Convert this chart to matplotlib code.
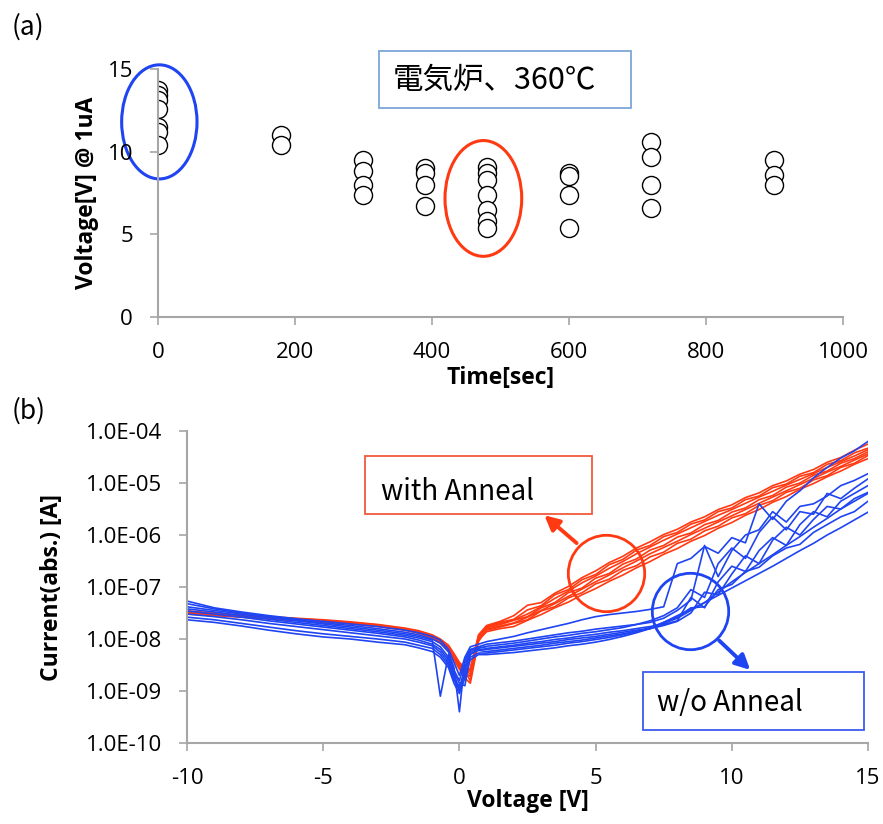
import matplotlib
matplotlib.use("Agg")
import matplotlib.pyplot as plt
from matplotlib.patches import Ellipse, Rectangle
from matplotlib.ticker import NullLocator
import numpy as np

plt.rcParams["font.family"] = ["Open Sans", "Noto Sans CJK JP", "DejaVu Sans"]
plt.rcParams["axes.unicode_minus"] = False

# ---- panel (a): voltage at 1uA vs anneal time ----
time_s = [0, 0, 0, 0, 0, 0, 0,
          180, 180,
          300, 300, 300, 300,
          390, 390, 390, 390,
          480, 480, 480, 480, 480, 480, 480,
          600, 600, 600, 600,
          720, 720, 720, 720,
          900, 900, 900]
volt_1ua = [13.7, 13.4, 13.1, 12.6, 11.5, 11.2, 10.4,
            11.0, 10.4,
            9.5, 8.8, 8.0, 7.4,
            9.0, 8.7, 8.0, 6.7,
            9.1, 8.7, 8.3, 7.4, 6.5, 5.8, 5.4,
            8.7, 8.5, 7.4, 5.4,
            10.6, 9.7, 8.0, 6.6,
            9.5, 8.6, 8.0]
time_ticks = [0, 200, 400, 600, 800, 1000]
volt_ticks = [0, 5, 10, 15]

# ---- panel (b): I-V curves, log10 of |current| ----
bias_v = [-10, -9, -8, -7, -6, -5, -4, -3, -2, -1.5, -1, -0.7, -0.4, -0.2, 0, 0.2, 0.4, 0.7,
          1, 1.5, 2, 2.5, 3, 3.5, 4, 4.5, 5, 5.5, 6, 6.5, 7, 7.5, 8, 8.5, 9, 9.5,
          10, 10.5, 11, 11.5, 12, 12.5, 13, 13.5, 14, 14.5, 15]

log_i_anneal = [
    [-7.46, -7.50, -7.54, -7.57, -7.60, -7.63, -7.67, -7.72, -7.79, -7.84, -7.92, -8.00, -8.12, -8.28, -8.45, -8.55, -8.62, -7.92,
     -7.74, -7.66, -7.55, -7.35, -7.30, -7.12, -6.99, -6.82, -6.69, -6.53, -6.41, -6.25, -6.13, -5.99, -5.89, -5.75, -5.65, -5.51,
     -5.42, -5.28, -5.19, -5.05, -4.96, -4.83, -4.74, -4.60, -4.51, -4.37, -4.25],
    [-7.48, -7.52, -7.55, -7.59, -7.62, -7.65, -7.69, -7.74, -7.81, -7.86, -7.95, -8.04, -8.18, -8.35, -8.50, -8.62, -8.80, -7.98,
     -7.75, -7.68, -7.62, -7.44, -7.36, -7.15, -7.05, -6.86, -6.76, -6.57, -6.47, -6.29, -6.20, -6.03, -5.95, -5.79, -5.71, -5.55,
     -5.48, -5.32, -5.25, -5.09, -5.02, -4.87, -4.80, -4.64, -4.57, -4.42, -4.33],
    [-7.50, -7.53, -7.57, -7.60, -7.63, -7.66, -7.70, -7.75, -7.82, -7.88, -7.97, -8.06, -8.20, -8.38, -8.55, -8.70, -8.55, -7.95,
     -7.77, -7.70, -7.63, -7.52, -7.38, -7.22, -7.08, -6.92, -6.79, -6.64, -6.51, -6.36, -6.23, -6.10, -5.98, -5.86, -5.74, -5.62,
     -5.51, -5.39, -5.27, -5.16, -5.04, -4.93, -4.82, -4.70, -4.59, -4.48, -4.36],
    [-7.47, -7.51, -7.55, -7.58, -7.61, -7.64, -7.68, -7.73, -7.80, -7.85, -7.93, -8.02, -8.15, -8.30, -8.48, -8.58, -8.68, -8.00,
     -7.79, -7.72, -7.64, -7.57, -7.40, -7.30, -7.11, -7.02, -6.83, -6.74, -6.56, -6.46, -6.29, -6.20, -6.04, -5.96, -5.80, -5.72,
     -5.56, -5.48, -5.32, -5.24, -5.08, -5.00, -4.85, -4.77, -4.62, -4.53, -4.40],
    [-7.52, -7.55, -7.58, -7.61, -7.64, -7.67, -7.71, -7.76, -7.83, -7.89, -7.98, -8.08, -8.22, -8.40, -8.58, -8.75, -8.85, -8.05,
     -7.81, -7.75, -7.69, -7.58, -7.45, -7.32, -7.18, -7.04, -6.90, -6.77, -6.63, -6.50, -6.36, -6.24, -6.12, -5.99, -5.87, -5.75,
     -5.63, -5.51, -5.39, -5.27, -5.15, -5.03, -4.91, -4.79, -4.68, -4.56, -4.44],
    [-7.49, -7.52, -7.56, -7.59, -7.62, -7.65, -7.69, -7.74, -7.81, -7.87, -7.96, -8.05, -8.17, -8.33, -8.52, -8.65, -8.72, -7.97,
     -7.83, -7.77, -7.70, -7.63, -7.46, -7.38, -7.21, -7.11, -6.94, -6.85, -6.68, -6.59, -6.42, -6.33, -6.16, -6.08, -5.92, -5.83,
     -5.67, -5.59, -5.43, -5.34, -5.18, -5.10, -4.94, -4.86, -4.70, -4.62, -4.47],
    [-7.51, -7.54, -7.57, -7.60, -7.63, -7.66, -7.70, -7.75, -7.82, -7.87, -7.96, -8.05, -8.19, -8.36, -8.53, -8.66, -8.60, -8.02,
     -7.86, -7.80, -7.76, -7.64, -7.53, -7.40, -7.29, -7.15, -7.03, -6.89, -6.77, -6.63, -6.51, -6.37, -6.26, -6.12, -6.01, -5.87,
     -5.76, -5.62, -5.51, -5.37, -5.26, -5.12, -5.01, -4.88, -4.77, -4.64, -4.53],
]

log_i_no_anneal = [
    [-7.27, -7.40, -7.48, -7.55, -7.61, -7.66, -7.71, -7.76, -7.83, -7.88, -7.95, -8.02, -8.20, -8.45, -8.70, -8.35, -8.15, -8.10,
     -8.05, -8.00, -7.95, -7.88, -7.82, -7.76, -7.70, -7.63, -7.57, -7.53, -7.50, -7.47, -7.43, -7.38, -6.55, -6.45, -6.22, -6.35,
     -6.05, -6.15, -5.40, -5.70, -5.35, -5.15, -4.90, -4.70, -4.52, -4.38, -4.20],
    [-7.32, -7.42, -7.50, -7.57, -7.63, -7.69, -7.74, -7.80, -7.87, -7.92, -8.00, -8.08, -8.25, -8.55, -9.40, -8.40, -8.20, -8.15,
     -8.10, -8.07, -8.04, -8.00, -7.96, -7.92, -7.88, -7.85, -7.81, -7.78, -7.75, -7.72, -7.68, -7.60, -7.45, -7.25, -6.20, -6.80,
     -6.30, -6.00, -5.90, -5.55, -5.75, -5.45, -5.40, -5.25, -5.05, -4.95, -4.82],
    [-7.38, -7.45, -7.52, -7.59, -7.65, -7.71, -7.77, -7.83, -7.90, -7.95, -8.02, -9.10, -8.30, -8.60, -8.80, -8.45, -8.25, -8.18,
     -8.14, -8.11, -8.08, -8.04, -8.00, -7.96, -7.93, -7.89, -7.86, -7.82, -7.78, -7.72, -7.65, -7.55, -7.40, -7.05, -7.20, -6.55,
     -6.25, -6.45, -5.95, -5.65, -5.90, -5.55, -5.60, -5.20, -5.30, -5.10, -4.92],
    [-7.42, -7.48, -7.55, -7.62, -7.68, -7.74, -7.80, -7.86, -7.93, -7.98, -8.05, -8.15, -8.35, -8.70, -8.95, -8.55, -8.22, -8.15,
     -8.18, -8.15, -8.12, -8.08, -8.05, -8.01, -7.98, -7.94, -7.91, -7.87, -7.84, -7.80, -7.76, -7.72, -7.65, -7.20, -7.40, -6.90,
     -6.60, -6.70, -6.30, -6.05, -6.20, -5.80, -5.55, -5.65, -5.35, -5.20, -5.05],
    [-7.46, -7.52, -7.58, -7.65, -7.71, -7.77, -7.83, -7.89, -7.96, -8.02, -8.10, -8.20, -8.40, -8.65, -8.85, -8.90, -8.30, -8.20,
     -8.20, -8.17, -8.14, -8.11, -8.08, -8.05, -8.01, -7.98, -7.95, -7.91, -7.87, -7.83, -7.80, -7.74, -7.66, -7.50, -7.10, -7.15,
     -6.75, -6.40, -6.55, -6.10, -5.85, -6.00, -5.70, -5.45, -5.50, -5.30, -5.18],
    [-7.52, -7.57, -7.63, -7.70, -7.76, -7.82, -7.88, -7.94, -8.00, -8.06, -8.13, -8.25, -8.45, -8.75, -9.00, -8.60, -8.28, -8.22,
     -8.24, -8.21, -8.18, -8.15, -8.12, -8.08, -8.05, -8.02, -7.98, -7.94, -7.90, -7.85, -7.80, -7.70, -7.60, -7.45, -7.30, -7.10,
     -6.90, -6.72, -6.55, -6.38, -6.20, -6.03, -5.85, -5.68, -5.50, -5.35, -5.20],
    [-7.58, -7.63, -7.70, -7.77, -7.84, -7.90, -7.95, -8.00, -8.06, -8.12, -8.18, -8.30, -8.50, -8.80, -8.90, -8.70, -8.35, -8.27,
     -8.27, -8.24, -8.21, -8.18, -8.15, -8.12, -8.08, -8.05, -8.01, -7.97, -7.92, -7.86, -7.78, -7.68, -7.58, -7.40, -7.38, -7.05,
     -6.95, -6.70, -6.62, -6.40, -6.25, -6.18, -5.95, -5.80, -5.65, -5.55, -5.35],
    [-7.63, -7.68, -7.75, -7.83, -7.90, -7.96, -8.00, -8.06, -8.11, -8.17, -8.24, -8.35, -8.55, -8.85, -9.05, -8.75, -8.40, -8.30,
     -8.30, -8.28, -8.26, -8.23, -8.20, -8.17, -8.13, -8.10, -8.06, -8.01, -7.95, -7.88, -7.80, -7.68, -7.55, -7.43, -7.30, -7.16,
     -7.02, -6.88, -6.74, -6.60, -6.45, -6.30, -6.16, -6.00, -5.86, -5.71, -5.56],
]

bias_ticks = [-10, -5, 0, 5, 10, 15]
current_ticks = [1e-10, 1e-9, 1e-8, 1e-7, 1e-6, 1e-5, 1e-4]
current_labels = ["1.0E-10", "1.0E-09", "1.0E-08", "1.0E-07", "1.0E-06", "1.0E-05", "1.0E-04"]

RED = "#FF3A12"
BLUE = "#1F44F2"
GRAY = "#A6A6A6"
JP = ["Noto Sans CJK JP", "DejaVu Sans"]


def excel_axes(ax):
    for s in ["top", "right"]:
        ax.spines[s].set_visible(False)
    for s in ["left", "bottom"]:
        ax.spines[s].set_color(GRAY)
        ax.spines[s].set_linewidth(1.5)
    ax.tick_params(direction="out", length=6, width=1.2, color=GRAY,
                   labelsize=16, pad=12)


fig = plt.figure(figsize=(8.83, 8.24), dpi=100)

# panel (a)
ax1 = fig.add_axes([0.1789, 0.6153, 0.7758, 0.3010])
ax1.plot(time_s, volt_1ua, "o", ms=13, mfc="white", mec="black", mew=1.0, ls="none")
ax1.set_xlim(0, 1000)
ax1.set_ylim(0, 15)
ax1.set_xticks(time_ticks)
ax1.set_yticks(volt_ticks)
excel_axes(ax1)
ax1.set_xlabel("Time[sec]", fontsize=16.5, fontweight="bold", labelpad=2)
ax1.set_ylabel("Voltage[V] @ 1uA", fontsize=16.5, fontweight="bold", labelpad=6)
ax1.add_patch(Ellipse((2, 11.8), 110, 6.9, fill=False, ec=BLUE, lw=2.2, clip_on=False))
ax1.add_patch(Ellipse((475, 7.17), 112, 7.0, fill=False, ec=RED, lw=2.2, clip_on=False))
ax1.add_patch(Rectangle((0.3226, 0.8427), 0.3679, 0.2299, transform=ax1.transAxes,
                        fc="white", ec="#7EA6D8", lw=1.3, clip_on=False, zorder=5))
ax1.text(0.3431, 0.9556, "電気炉、360℃", transform=ax1.transAxes, fontsize=22,
         family=JP, va="center", ha="left", zorder=6)

# panel (b)
ax2 = fig.add_axes([0.2118, 0.0983, 0.7712, 0.3786])
for row in log_i_anneal:
    ax2.plot(bias_v, 10 ** np.array(row), color=RED, lw=1.2)
for row in log_i_no_anneal:
    ax2.plot(bias_v, 10 ** np.array(row), color=BLUE, lw=1.2)
ax2.set_yscale("log")
ax2.set_xlim(-10, 15)
ax2.set_ylim(1e-10, 1e-4)
ax2.set_xticks(bias_ticks)
ax2.set_yticks(current_ticks)
ax2.set_yticklabels(current_labels)
ax2.yaxis.set_minor_locator(NullLocator())
excel_axes(ax2)
ax2.set_xlabel("Voltage [V]", fontsize=16.5, fontweight="bold", labelpad=0)
ax2.set_ylabel("Current(abs.) [A]", fontsize=16.5, fontweight="bold", labelpad=16)

# circles and arrows marking the two groups
ax2.plot([5.4], [1.82e-7], "o", ms=55, mfc="none", mec=RED, mew=2.0, clip_on=False)
ax2.plot([8.45], [3.39e-8], "o", ms=55, mfc="none", mec=BLUE, mew=2.0, clip_on=False)
ax2.annotate("", xy=(3.04, 2.6e-6), xytext=(4.38, 6.46e-7),
             arrowprops=dict(arrowstyle="-|>", color=RED, lw=2.8, mutation_scale=22))
ax2.annotate("", xy=(10.75, 2.34e-9), xytext=(9.46, 1.02e-8),
             arrowprops=dict(arrowstyle="-|>", color=BLUE, lw=2.8, mutation_scale=22))

ax2.add_patch(Rectangle((0.2614, 0.7340), 0.3333, 0.1859, transform=ax2.transAxes,
                        fc="white", ec="#F05A3C", lw=1.3, clip_on=False, zorder=5))
ax2.text(0.2844, 0.8054, "with Anneal", transform=ax2.transAxes, fontsize=20,
         family=JP, va="center", ha="left", zorder=6)
ax2.add_patch(Rectangle((0.6692, 0.0417), 0.3254, 0.1849, transform=ax2.transAxes,
                        fc="white", ec="#3A5AF0", lw=1.3, clip_on=False, zorder=5))
ax2.text(0.6902, 0.1272, "w/o Anneal", transform=ax2.transAxes, fontsize=20,
         family=JP, va="center", ha="left", zorder=6)

fig.text(28 / 883, 1 - 27 / 824, "(a)", fontsize=19, family=JP, ha="center", va="center")
fig.text(29 / 883, 1 - 411 / 824, "(b)", fontsize=19, family=JP, ha="center", va="center")

fig.savefig("out.png", dpi=100)
